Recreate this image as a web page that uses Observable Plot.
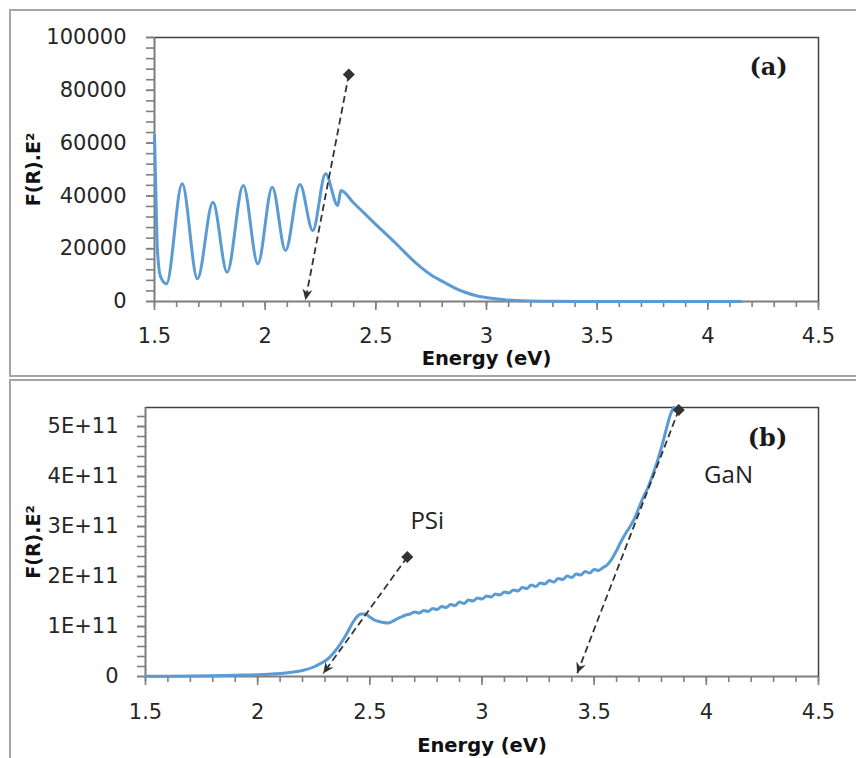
<!DOCTYPE html>
<html>
<head>
<meta charset="utf-8">
<script src="https://cdn.jsdelivr.net/npm/d3@7"></script>
<script src="https://cdn.jsdelivr.net/npm/@observablehq/plot@0.6"></script>
<style>
  html, body { margin: 0; padding: 0; background: #fff; }
  #wrap { position: relative; width: 856px; height: 758px; overflow: hidden; background: #fff; }
  .plot { position: absolute; left: 0; }
  .outer { position: absolute; box-sizing: border-box; border: 2px solid #a6a6a6; border-right: none; }
</style>
</head>
<body>
<div id="wrap"></div>
<script>
// ---------- Panel (a) data ----------
const energyA = [1.500, 1.506, 1.513, 1.527, 1.554, 1.625, 1.694, 1.764, 1.828, 1.901, 1.967, 2.032, 2.092, 2.157, 2.215, 2.273, 2.328, 2.342, 2.40, 2.49, 2.60, 2.65, 2.70, 2.75, 2.81, 2.86, 2.90, 2.95, 2.99, 3.04, 3.09, 3.20, 3.30, 3.50, 4.15];
const signalA = [63000, 42000, 20000, 9500, 6700, 44600, 8600, 37600, 11100, 43900, 14300, 43300, 19300, 44300, 26900, 48400, 36400, 42000, 37300, 30000, 21200, 17000, 13200, 10000, 7200, 5000, 3600, 2300, 1600, 1000, 600, 200, 50, 0, 0];

// ---------- Panel (b) data (values in units of 1E+11) ----------
const energyB = [1.50, 1.60, 1.70, 1.80, 1.90, 2.00, 2.05, 2.10, 2.15, 2.20, 2.25, 2.28, 2.31, 2.34, 2.37, 2.40, 2.42, 2.44, 2.46, 2.48, 2.50, 2.52, 2.54, 2.56, 2.58, 2.60, 2.62, 2.64, 2.66, 2.68, 2.70, 2.72, 2.74, 2.76, 2.78, 2.80, 2.82, 2.84, 2.86, 2.88, 2.90, 2.92, 2.94, 2.96, 2.98, 3.00, 3.02, 3.04, 3.06, 3.08, 3.10, 3.12, 3.14, 3.16, 3.18, 3.20, 3.22, 3.24, 3.26, 3.28, 3.30, 3.32, 3.34, 3.36, 3.38, 3.40, 3.42, 3.44, 3.46, 3.48, 3.50, 3.52, 3.54, 3.56, 3.58, 3.60, 3.62, 3.64, 3.66, 3.68, 3.70, 3.72, 3.74, 3.76, 3.78, 3.80, 3.82, 3.84, 3.855];
const signalB = [0.005, 0.007, 0.010, 0.015, 0.025, 0.035, 0.045, 0.060, 0.085, 0.12, 0.19, 0.26, 0.34, 0.48, 0.66, 0.88, 1.05, 1.18, 1.25, 1.25, 1.19, 1.13, 1.10, 1.08, 1.07, 1.10, 1.15, 1.19, 1.23, 1.25, 1.29, 1.27, 1.32, 1.30, 1.36, 1.34, 1.40, 1.38, 1.44, 1.42, 1.49, 1.46, 1.53, 1.51, 1.57, 1.55, 1.61, 1.59, 1.65, 1.63, 1.69, 1.67, 1.73, 1.71, 1.78, 1.76, 1.83, 1.80, 1.87, 1.85, 1.92, 1.89, 1.96, 1.94, 2.01, 1.98, 2.05, 2.03, 2.10, 2.07, 2.14, 2.12, 2.18, 2.24, 2.36, 2.52, 2.70, 2.86, 3.00, 3.16, 3.38, 3.60, 3.78, 4.02, 4.28, 4.58, 4.92, 5.24, 5.38];

// ---------- Ticks & labels ----------
const xTicks = [1.5, 2, 2.5, 3, 3.5, 4, 4.5];
const xTickLabels = ["1.5", "2", "2.5", "3", "3.5", "4", "4.5"];
const yTicksA = [0, 20000, 40000, 60000, 80000, 100000];
const yTickLabelsA = ["0", "20000", "40000", "60000", "80000", "100000"];
const yTicksB = [0, 1, 2, 3, 4, 5];
const yTickLabelsB = ["0", "1E+11", "2E+11", "3E+11", "4E+11", "5E+11"];
const xMinor = d3.range(15, 46).map(d => d / 10);
const yMinorA = d3.range(0, 26).map(d => d * 4000);
const yMinorB = d3.range(0, 27).map(d => d / 5);

// ---------- Annotations (data coordinates) ----------
const arrowsA = [{x1: 2.378, y1: 86000, x2: 2.182, y2: 500}];
const arrowsB = [
  {x1: 2.667, y1: 2.39, x2: 2.292, y2: 0.06},
  {x1: 3.877, y1: 5.33, x2: 3.424, y2: 0.06}
];
const labelsB = [
  {text: "PSi", x: 2.756, y: 3.10},
  {text: "GaN", x: 4.099, y: 4.03}
];

const dataA = energyA.map((e, i) => ({e, v: signalA[i]}));
const dataB = energyB.map((e, i) => ({e, v: signalB[i]}));

const BLUE = "#5B9BD5";
const TICK = "#7f7f7f";
const TEXT = "#262626";
const diamond = {
  draw(context, size) {
    const r = Math.sqrt(size / 2);
    context.moveTo(0, -r); context.lineTo(r, 0); context.lineTo(0, r); context.lineTo(-r, 0); context.closePath();
  }
};

function stealth(svg) {
  svg.querySelectorAll("marker").forEach(m => {
    m.setAttribute("viewBox", "-12 -6 13 12");
    m.setAttribute("markerUnits", "userSpaceOnUse");
    m.setAttribute("markerWidth", "13");
    m.setAttribute("markerHeight", "12");
    m.setAttribute("refX", "0");
    m.setAttribute("refY", "0");
    m.setAttribute("fill", "#333");
    m.setAttribute("stroke", "none");
    while (m.firstChild) m.removeChild(m.firstChild);
    const p = document.createElementNS("http://www.w3.org/2000/svg", "path");
    p.setAttribute("d", "M0,0L-11,-5L-7.5,0L-11,5Z");
    m.appendChild(p);
  });
}

function panel({data, yDomain, yTicks, yLabels, yMinor, arrows, labels, tag, tagDx, tagDy,
                height, mLeft, mTop, mBottom, yPad, xPad, yTitleDx, xTitleDy}) {
  const marks = [
    Plot.frame({stroke: "#404040", strokeWidth: 1.5}),
    Plot.axisY(yMinor, {tickSize: 8, tickFormat: () => "", stroke: TICK, strokeWidth: 1.6, label: null}),
    Plot.axisX(xMinor, {tickSize: 6, tickFormat: () => "", stroke: TICK, strokeWidth: 1.6, label: null}),
    Plot.axisY(yTicks, {tickSize: 8, tickPadding: yPad, stroke: TICK, strokeWidth: 1.6, fill: TEXT, label: null,
      tickFormat: d => yLabels[yTicks.indexOf(d)], fontSize: 21, fontFamily: "DejaVu Sans"}),
    Plot.axisX(xTicks, {tickSize: 9, tickPadding: xPad, stroke: TICK, strokeWidth: 1.6, fill: TEXT, label: null,
      tickFormat: d => xTickLabels[xTicks.indexOf(d)], fontSize: 21, fontFamily: "DejaVu Sans"}),
    Plot.ruleX([1.5], {stroke: TICK, strokeWidth: 1.5}),
    Plot.ruleY([0], {stroke: TICK, strokeWidth: 1.5}),
    Plot.line(data, {x: "e", y: "v", stroke: BLUE, strokeWidth: 3, curve: "monotone-x"}),
    Plot.link(arrows, {x1: "x1", y1: "y1", x2: "x2", y2: "y2", stroke: "#333", strokeWidth: 1.8,
      strokeDasharray: "7,4", markerEnd: "arrow"}),
    Plot.dot(arrows, {x: "x1", y: "y1", symbol: diamond, r: 4.8, fill: "#333", stroke: "none"}),
    Plot.text([tag], {text: d => d, frameAnchor: "top-right", dx: tagDx, dy: tagDy, textAnchor: "middle",
      lineAnchor: "middle", fontFamily: "DejaVu Serif", fontWeight: "bold", fontSize: 24, fill: "#1a1a1a"}),
    Plot.text(["F(R).E²"], {text: d => d, frameAnchor: "left", dx: yTitleDx, rotate: -90, textAnchor: "middle",
      lineAnchor: "middle", fontFamily: "DejaVu Sans", fontWeight: "bold", fontSize: 19, fill: "#111"}),
    Plot.text(["Energy (eV)"], {text: d => d, frameAnchor: "bottom", dy: xTitleDy, textAnchor: "middle",
      lineAnchor: "middle", fontFamily: "DejaVu Sans", fontWeight: "bold", fontSize: 19.5, fill: "#111"})
  ];
  if (labels) {
    marks.push(Plot.text(labels, {x: "x", y: "y", text: "text", textAnchor: "middle", lineAnchor: "middle",
      fontFamily: "Open Sans", fontSize: 24, fill: "#222"}));
  }
  const svg = Plot.plot({
    width: 856, height,
    marginLeft: mLeft, marginRight: 38, marginTop: mTop, marginBottom: mBottom,
    x: {domain: [1.5, 4.5]},
    y: {domain: yDomain},
    style: {background: "transparent", fontFamily: "DejaVu Sans", overflow: "visible"},
    marks
  });
  stealth(svg);
  return svg;
}

const wrap = document.getElementById("wrap");

const svgA = panel({
  data: dataA, yDomain: [0, 100000], yTicks: yTicksA, yLabels: yTickLabelsA, yMinor: yMinorA,
  arrows: arrowsA, labels: null, tag: "(a)", tagDx: -50, tagDy: 30,
  height: 378, mLeft: 154, mTop: 37, mBottom: 77, yPad: 20, xPad: 17.5, yTitleDx: -121, xTitleDy: 57
});
svgA.classList.add("plot");
svgA.style.top = "0px";
wrap.appendChild(svgA);

const svgB = panel({
  data: dataB, yDomain: [0, 5.38], yTicks: yTicksB, yLabels: yTickLabelsB, yMinor: yMinorB,
  arrows: arrowsB, labels: labelsB, tag: "(b)", tagDx: -51, tagDy: 31,
  height: 380, mLeft: 145, mTop: 29, mBottom: 82, yPad: 19, xPad: 18.5, yTitleDx: -112, xTitleDy: 69
});
svgB.classList.add("plot");
svgB.style.top = "378px";
wrap.appendChild(svgB);

// outer panel borders
const fa = document.createElement("div");
fa.className = "outer";
Object.assign(fa.style, {left: "9px", top: "9px", width: "900px", height: "368px"});
wrap.appendChild(fa);
const fb = document.createElement("div");
fb.className = "outer";
Object.assign(fb.style, {left: "9px", top: "379px", width: "900px", height: "500px"});
wrap.appendChild(fb);
</script>
</body>
</html>
